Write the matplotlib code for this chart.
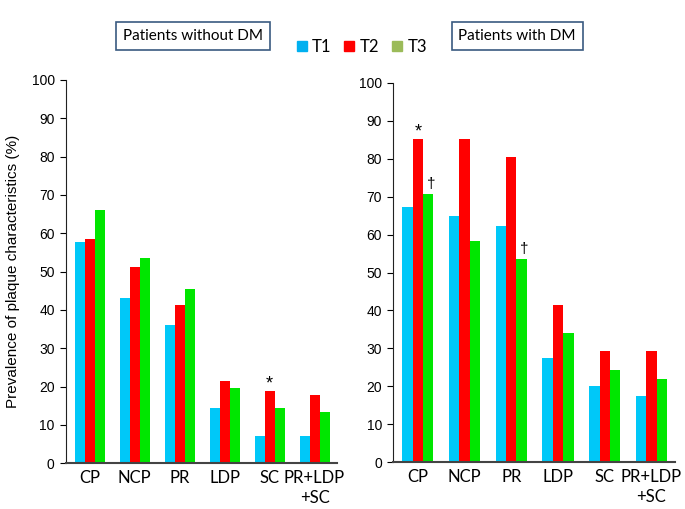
import numpy as np
import matplotlib.pyplot as plt
from matplotlib.patches import Patch

plt.rcParams['font.family'] = ['Liberation Sans', 'DejaVu Sans']

categories = ['CP', 'NCP', 'PR', 'LDP', 'SC', 'PR+LDP\n+SC']
series = ['T1', 'T2', 'T3']

# patients without DM
no_dm_t1 = [57.7, 43.2, 36.0, 14.3, 7.1, 7.1]
no_dm_t2 = [58.5, 51.3, 41.4, 21.5, 18.9, 17.9]
no_dm_t3 = [66.0, 53.6, 45.5, 19.5, 14.3, 13.3]

# patients with DM
dm_t1 = [67.4, 65.0, 62.4, 27.4, 20.0, 17.5]
dm_t2 = [85.3, 85.3, 80.5, 41.4, 29.3, 29.3]
dm_t3 = [70.7, 58.4, 53.7, 34.1, 24.4, 22.0]

# (series index, category index, symbol)
no_dm_marks = [(1, 4, '*')]
dm_marks = [(1, 0, '*'), (2, 0, '\u2020'), (2, 2, '\u2020')]

bar_colors = ['#00c8f8', '#ff0000', '#00e600']
legend_colors = ['#00b0f0', '#ff0000', '#9bbb59']

fig = plt.figure(figsize=(6.85, 5.09), dpi=100)
ax1 = fig.add_axes([0.096, 0.090, 0.396, 0.753])
ax2 = fig.add_axes([0.574, 0.092, 0.411, 0.745])

w = 0.222
x = np.arange(len(categories))

def draw(ax, data, marks):
    for i, vals in enumerate(data):
        ax.bar(x + (i - 1) * w, vals, width=w, color=bar_colors[i], linewidth=0)
    for si, ci, sym in marks:
        if sym == '*':
            ax.text(ci + (si - 1) * w, data[si][ci] - 0.5, sym, ha='center',
                    va='bottom', fontsize=13)
        else:
            ax.text(ci + (si - 1) * w + 0.06, data[si][ci] + 0.8, sym, ha='center',
                    va='bottom', fontsize=11)
    ax.set_ylim(0, 100)
    ax.set_xlim(-0.53, 5.5)
    ax.set_yticks(range(0, 101, 10))
    ax.set_xticks(x)
    ax.set_xticklabels(categories, family=['Lato', 'DejaVu Sans'], fontsize=12,
                       linespacing=1.3)
    ax.tick_params(axis='x', length=0, pad=5)
    ax.tick_params(axis='y', labelsize=10, length=4, direction='out', pad=4)
    for s in ['top', 'right']:
        ax.spines[s].set_visible(False)
    ax.spines['left'].set_color('#222222')
    ax.spines['bottom'].set_color('#444444')
    ax.spines['bottom'].set_linewidth(1.5)

draw(ax1, [no_dm_t1, no_dm_t2, no_dm_t3], no_dm_marks)
draw(ax2, [dm_t1, dm_t2, dm_t3], dm_marks)

ax1.set_ylabel('Prevalence of plaque characteristics (%)', fontsize=11, labelpad=8)

box = dict(boxstyle='square,pad=0.45', facecolor='white', edgecolor='#3a5a80', linewidth=1.2)
fig.text(0.282, 0.929, 'Patients without DM', ha='center', va='center',
         family=['Lato', 'DejaVu Sans'], fontsize=11, bbox=box)
fig.text(0.755, 0.929, 'Patients with DM', ha='center', va='center',
         family=['Lato', 'DejaVu Sans'], fontsize=11, bbox=box)

handles = [Patch(color=c, label=s) for c, s in zip(legend_colors, series)]
fig.legend(handles=handles, loc='center', bbox_to_anchor=(0.528, 0.908), ncol=3,
           frameon=False, prop={'family': ['Lato', 'DejaVu Sans'], 'size': 12},
           handlelength=0.6, handleheight=0.6, handletextpad=0.3, columnspacing=0.8)

fig.savefig('out.png', dpi=100)
